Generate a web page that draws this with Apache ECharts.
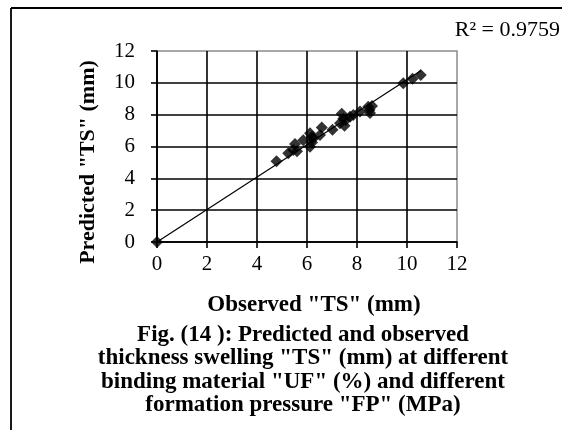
<!DOCTYPE html>
<html>
<head>
<meta charset="utf-8">
<script src="https://cdn.jsdelivr.net/npm/echarts@6/dist/echarts.min.js"></script>
<style>
  html, body { margin: 0; padding: 0; background: #fff; }
  #chart { width: 562px; height: 430px; }
</style>
</head>
<body>
<div id="chart"></div>
<script>
// Observed vs predicted thickness swelling (mm)
const observed  = [0, 4.78, 5.25, 5.45, 5.52, 5.60, 5.85, 6.12, 6.12, 6.20, 6.20, 6.25, 6.52, 6.59, 7.02, 7.32, 7.39, 7.45, 7.50, 7.55, 7.72, 7.85, 8.12, 8.45, 8.50, 8.52, 8.60, 9.85, 10.22, 10.55];
const predicted = [0, 5.07, 5.57, 5.78, 6.15, 5.70, 6.40, 6.83, 5.99, 6.60, 6.25, 6.50, 6.72, 7.20, 7.06, 7.46, 8.05, 7.75, 7.30, 7.66, 7.87, 7.98, 8.20, 8.50, 8.30, 8.10, 8.55, 9.98, 10.25, 10.50];
const axisTicks = [0, 2, 4, 6, 8, 10, 12];
const rSquaredText = 'R² = 0.9759';
const xTitle = 'Observed "TS" (mm)';
const yTitle = 'Predicted "TS" (mm)';
const captionLines = [
  'Fig. (14 ): Predicted and observed',
  'thickness swelling "TS" (mm) at different',
  'binding material "UF" (%) and different',
  'formation pressure "FP" (MPa)'
];

const points = observed.map((x, i) => [x, predicted[i]]);

// Linear trend through the origin (least squares)
let sxy = 0, sxx = 0;
observed.forEach((x, i) => { sxy += x * predicted[i]; sxx += x * x; });
const slope = sxy / sxx;
const xMax = Math.max(...observed);
const trend = [[0, 0], [xMax, slope * xMax]];

const serif = '"Liberation Serif", "Times New Roman", serif';
const step = axisTicks[1] - axisTicks[0];

const axisCommon = {
  type: 'value',
  min: axisTicks[0],
  max: axisTicks[axisTicks.length - 1],
  interval: step,
  axisLine: { show: true, onZero: false, lineStyle: { color: '#000', width: 1.6 } },
  axisTick: { show: true, inside: false, length: 6, lineStyle: { color: '#000', width: 1.6 } },
  splitLine: { show: true, showMaxLine: false, lineStyle: { color: '#000', width: 1.6 } },
  axisLabel: { color: '#000', fontFamily: serif, fontSize: 21 }
};

const chart = echarts.init(document.getElementById('chart'), null, { renderer: 'canvas' });
chart.setOption({
  backgroundColor: '#fff',
  animation: false,
  grid: {
    left: 157, top: 51, width: 300, height: 191,
    show: true, borderColor: '#8c8c8c', borderWidth: 1.5, backgroundColor: 'transparent'
  },
  xAxis: Object.assign({}, axisCommon, {
    axisLabel: Object.assign({}, axisCommon.axisLabel, { margin: 12 })
  }),
  yAxis: Object.assign({}, axisCommon, {
    axisLabel: Object.assign({}, axisCommon.axisLabel, { margin: 22 })
  }),
  series: [
    {
      type: 'line',
      data: trend,
      showSymbol: false,
      lineStyle: { color: '#000', width: 1.2 },
      z: 2
    },
    {
      type: 'scatter',
      data: points,
      symbol: 'diamond',
      symbolSize: 12,
      itemStyle: { color: '#000' },
      z: 3
    }
  ],
  graphic: [
    // frame edges
    { type: 'line', shape: { x1: 11, y1: 8, x2: 11, y2: 430 }, style: { stroke: '#000', lineWidth: 1.8 } },
    { type: 'line', shape: { x1: 11, y1: 8, x2: 562, y2: 8 }, style: { stroke: '#000', lineWidth: 1.8 } },
    {
      type: 'text', x: 560, y: 30,
      style: { text: rSquaredText, font: '22px ' + serif, fill: '#000', align: 'right', verticalAlign: 'middle' }
    },
    {
      type: 'text', x: 314, y: 305,
      style: { text: xTitle, font: 'bold 23px ' + serif, fill: '#000', align: 'center', verticalAlign: 'middle' }
    },
    {
      type: 'text', x: 88, y: 162, rotation: Math.PI / 2,
      style: { text: yTitle, font: 'bold 22px ' + serif, fill: '#000', align: 'center', verticalAlign: 'middle' }
    },
    ...captionLines.map((line, i) => ({
      type: 'text', x: 303, y: 335 + i * 23.5,
      style: { text: line, font: 'bold 23px ' + serif, fill: '#000', align: 'center', verticalAlign: 'middle' }
    }))
  ]
});
</script>
</body>
</html>
